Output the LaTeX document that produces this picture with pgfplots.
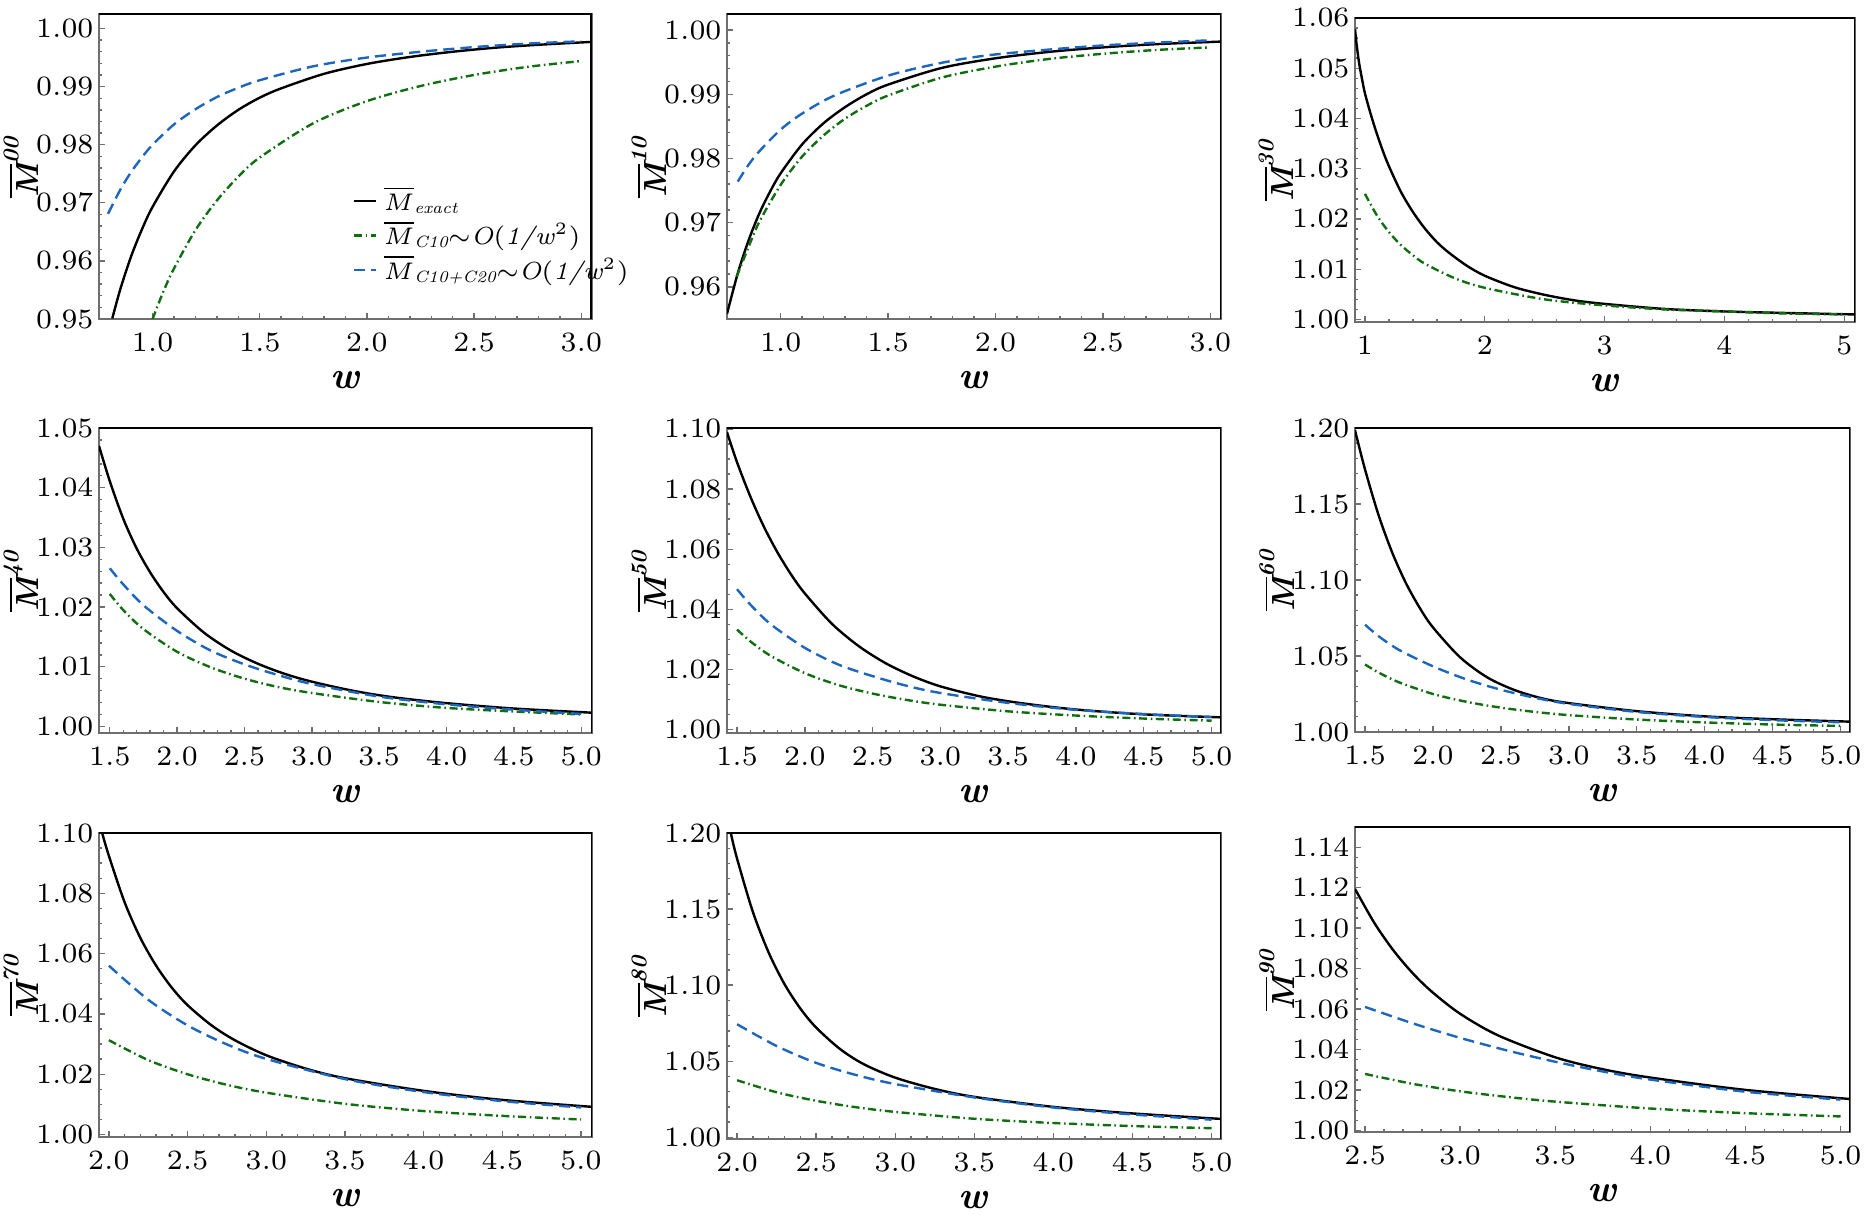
\documentclass[border=0pt]{standalone}
\usepackage{pgfplots}
\pgfplotsset{compat=1.18}
\definecolor{myblue}{RGB}{28,102,190}
\definecolor{mygreen}{RGB}{16,110,16}
\definecolor{axgray}{RGB}{110,110,110}
\newcommand{\ML}[1]{$\overline{\mbox{\bfseries\itshape M}}^{\mbox{\fontsize{5.6}{6}\selectfont\bfseries\itshape #1}}$}
\newcommand{\LS}[1]{\raisebox{-0.7pt}{\fontsize{4.1}{4}\selectfont\itshape #1}}
\pgfplotsset{
  panel/.style={
    scale only axis, anchor=south west,
    tick align=inside, tick pos=left,
    axis line style={draw=axgray, line width=0.45pt},
    tick style={draw=axgray, line width=0.35pt},
    major tick length=1.4pt, minor tick length=0.8pt,
    minor x tick num=4,
    tick label style={font=\fontsize{7.2}{8}\selectfont},
    yticklabel style={inner sep=1.2pt},
    xticklabel style={/pgf/number format/fixed, /pgf/number format/fixed zerofill, /pgf/number format/precision=1},
    yticklabel style={/pgf/number format/fixed, /pgf/number format/fixed zerofill, /pgf/number format/precision=2},
    every axis y label/.style={at={(axis description cs:-0.158,0.5)}, rotate=90, anchor=center, font=\fontsize{8}{9}\selectfont},
    every axis x label/.style={at={(axis description cs:0.5,-0.2)}, anchor=center, font=\fontsize{9.5}{10}\selectfont},
    xlabel={\textbf{\textit{w}}},
  },
  plotex/.style={black, line width=0.6pt, smooth},
  plotca/.style={mygreen, line width=0.6pt, smooth, dash pattern=on 2pt off 0.9pt on 0.4pt off 0.9pt},
  plotcb/.style={myblue, line width=0.6pt, smooth, dash pattern=on 2.8pt off 1.5pt},
}
\newcommand{\frameTR}{\draw[black, line width=0.75pt] (rel axis cs:0,1) -- (rel axis cs:1,1) -- (rel axis cs:1,0);}
\begin{document}
\begin{tikzpicture}
\useasboundingbox (0,0) rectangle (468.25pt,304.75pt);
% ---------- M00
\begin{axis}[panel, at={(24.75pt,225pt)}, width=123.25pt, height=76.25pt,
  xmin=0.75, xmax=3.05, ymin=0.95, ymax=1.0025,
  xtick={1,1.5,2,2.5,3}, ytick={0.95,0.96,0.97,0.98,0.99,1.00}, minor y tick num=4,
  ylabel={\ML{00}},
  legend style={draw=none, fill=none, at={(0.513,0.445)}, anchor=north west, font=\fontsize{6.2}{7}\selectfont, inner sep=0pt, row sep=0pt, nodes={inner sep=0.5pt}, /tikz/every odd column/.append style={column sep=1.2pt}},
  legend cell align=left,
  legend image code/.code={\draw[#1] (0pt,0pt) -- (5.5pt,0pt);}]
\addplot[plotex] coordinates {(0.812,0.9501) (0.85,0.9552) (0.9,0.9608) (0.95,0.9654) (1.0,0.9693) (1.1,0.9754) (1.2,0.9799) (1.3,0.9833) (1.4,0.9860) (1.5,0.9881) (1.6,0.9897) (1.8,0.9922) (2.0,0.9939) (2.2,0.9951) (2.4,0.9960) (2.6,0.9967) (2.8,0.9972) (3.05,0.9977)};
\addlegendentry{$\overline{M}$\LS{exact}}
\addplot[plotca] coordinates {(1.0,0.9500) (1.05,0.9547) (1.1,0.9587) (1.2,0.9653) (1.3,0.9704) (1.4,0.9745) (1.5,0.9778) (1.75,0.9837) (2.0,0.9875) (2.25,0.9901) (2.5,0.9920) (2.75,0.9934) (3.0,0.9944)};
\addlegendentry{$\overline{M}$\LS{C10}$\sim$\textit{O}(\textit{1/w}\textsuperscript{2})}
\addplot[plotcb] coordinates {(0.792,0.9681) (0.85,0.9723) (0.9,0.9753) (0.95,0.9778) (1.0,0.9800) (1.1,0.9835) (1.2,0.9861) (1.3,0.9882) (1.4,0.9898) (1.5,0.9911) (1.75,0.9935) (2.0,0.9950) (2.25,0.9960) (2.5,0.9968) (2.75,0.9974) (3.0,0.9978)};
\addlegendentry{$\overline{M}$\LS{C10+C20}$\sim$\textit{O}(\textit{1/w}\textsuperscript{2})}
\frameTR
\end{axis}
% ---------- M10
\begin{axis}[panel, at={(181.75pt,225pt)}, width=123.5pt, height=76.25pt,
  xmin=0.75, xmax=3.05, ymin=0.955, ymax=1.0025,
  xtick={1,1.5,2,2.5,3}, ytick={0.96,0.97,0.98,0.99,1.00}, minor y tick num=4,
  ylabel={\ML{10}}]
\addplot[plotex] coordinates {(0.75,0.9558) (0.8,0.9621) (0.85,0.9672) (0.9,0.9714) (0.95,0.9748) (1.0,0.9777) (1.1,0.9822) (1.2,0.9855) (1.3,0.9880) (1.4,0.9900) (1.5,0.9915) (1.75,0.9941) (2.0,0.9956) (2.25,0.9966) (2.5,0.9973) (2.75,0.9978) (3.05,0.9982)};
\addplot[plotca] coordinates {(0.795,0.9616) (0.85,0.9662) (0.9,0.9701) (1.0,0.9759) (1.1,0.9803) (1.2,0.9836) (1.3,0.9862) (1.4,0.9882) (1.5,0.9898) (1.75,0.9926) (2.0,0.9943) (2.25,0.9955) (2.5,0.9963) (2.75,0.9969) (3.0,0.9973)};
\addplot[plotcb] coordinates {(0.8,0.9764) (0.85,0.9790) (0.9,0.9811) (1.0,0.9845) (1.1,0.9870) (1.25,0.9898) (1.5,0.9929) (1.75,0.9949) (2.0,0.9962) (2.5,0.9976) (3.0,0.9984)};
\frameTR
\end{axis}
% ---------- M30
\begin{axis}[panel, at={(338.75pt,224.25pt)}, width=125pt, height=76pt,
  xmin=0.917, xmax=5.09, ymin=0.9995, ymax=1.06,
  xtick={1,2,3,4,5}, xticklabel style={/pgf/number format/precision=0},
  ytick={1.00,1.01,1.02,1.03,1.04,1.05,1.06}, minor y tick num=4,
  ylabel={\ML{30}}]
\addplot[plotex] coordinates {(0.917,1.0578) (0.93,1.0548) (0.95,1.0512) (0.975,1.0479) (1.0,1.0450) (1.05,1.0407) (1.1,1.0369) (1.15,1.0335) (1.2,1.0305) (1.3,1.0254) (1.4,1.0214) (1.5,1.0181) (1.6,1.0154) (1.7,1.0133) (1.85,1.0107) (2.0,1.0087) (2.25,1.0064) (2.5,1.0049) (2.75,1.0038) (3.0,1.0031) (3.5,1.0021) (4.0,1.0016) (4.5,1.0013) (5.09,1.0010)};
\addplot[plotca] coordinates {(1.0,1.0250) (1.1,1.0207) (1.2,1.0174) (1.3,1.0148) (1.4,1.0128) (1.5,1.0111) (1.75,1.0082) (2.0,1.0063) (2.5,1.0040) (3.0,1.0028) (3.5,1.0020) (4.0,1.0016) (4.5,1.0012) (5.0,1.0010)};
\frameTR
\end{axis}
% ---------- M40
\begin{axis}[panel, at={(24.75pt,121.5pt)}, width=123.25pt, height=76.25pt,
  xmin=1.42, xmax=5.08, ymin=0.9989, ymax=1.05,
  xtick={1.5,2,2.5,3,3.5,4,4.5,5}, ytick={1.00,1.01,1.02,1.03,1.04,1.05}, minor y tick num=4,
  ylabel={\ML{40}}]
\addplot[plotex] coordinates {(1.42,1.0470) (1.5,1.0411) (1.6,1.0348) (1.7,1.0298) (1.8,1.0258) (1.9,1.0225) (2.0,1.0198) (2.2,1.0157) (2.4,1.0127) (2.6,1.0105) (2.8,1.0088) (3.0,1.0075) (3.3,1.0060) (3.6,1.0049) (4.0,1.0039) (4.5,1.0030) (5.08,1.0023)};
\addplot[plotca] coordinates {(1.5,1.0222) (1.6,1.0195) (1.75,1.0163) (2.0,1.0125) (2.25,1.0099) (2.5,1.0080) (2.75,1.0066) (3.0,1.0056) (3.5,1.0041) (4.0,1.0031) (4.5,1.0025) (5.0,1.0020)};
\addplot[plotcb] coordinates {(1.5,1.0265) (1.6,1.0238) (1.75,1.0203) (2.0,1.0160) (2.25,1.0127) (2.5,1.0104) (2.75,1.0086) (3.0,1.0071) (3.5,1.0050) (4.0,1.0037) (4.5,1.0028) (5.0,1.0021)};
\frameTR
\end{axis}
% ---------- M50
\begin{axis}[panel, at={(181.75pt,121.5pt)}, width=123.5pt, height=76.25pt,
  xmin=1.426, xmax=5.07, ymin=0.9989, ymax=1.1003,
  xtick={1.5,2,2.5,3,3.5,4,4.5,5}, ytick={1.00,1.02,1.04,1.06,1.08,1.10}, minor y tick num=3,
  ylabel={\ML{50}}]
\addplot[plotex] coordinates {(1.426,1.0989) (1.5,1.0889) (1.6,1.0773) (1.7,1.0673) (1.8,1.0588) (1.9,1.0515) (2.0,1.0453) (2.2,1.0352) (2.4,1.0277) (2.6,1.0220) (2.8,1.0177) (3.0,1.0144) (3.3,1.0110) (3.6,1.0088) (4.0,1.0067) (4.5,1.0051) (5.07,1.0041)};
\addplot[plotca] coordinates {(1.5,1.0333) (1.6,1.0293) (1.75,1.0245) (2.0,1.0188) (2.25,1.0148) (2.5,1.0120) (2.75,1.0099) (3.0,1.0083) (3.5,1.0061) (4.0,1.0047) (4.5,1.0037) (5.0,1.0030)};
\addplot[plotcb] coordinates {(1.5,1.0467) (1.6,1.0415) (1.75,1.0350) (2.0,1.0272) (2.25,1.0216) (2.5,1.0178) (2.75,1.0146) (3.0,1.0122) (3.5,1.0089) (4.0,1.0066) (4.5,1.0052) (5.0,1.0042)};
\frameTR
\end{axis}
% ---------- M60
\begin{axis}[panel, at={(338.75pt,121.75pt)}, width=123.75pt, height=76pt,
  xmin=1.426, xmax=5.07, ymin=1.0, ymax=1.20,
  xtick={1.5,2,2.5,3,3.5,4,4.5,5}, ytick={1.00,1.05,1.10,1.15,1.20}, minor y tick num=4,
  ylabel={\ML{60}}]
\addplot[plotex] coordinates {(1.426,1.1985) (1.5,1.1726) (1.6,1.1425) (1.7,1.1180) (1.8,1.0981) (1.9,1.0820) (2.0,1.0688) (2.2,1.0491) (2.4,1.0359) (2.6,1.0276) (2.8,1.0222) (3.0,1.0190) (3.5,1.0137) (4.0,1.0103) (4.5,1.0084) (5.07,1.0068)};
\addplot[plotca] coordinates {(1.5,1.0444) (1.6,1.0391) (1.75,1.0327) (2.0,1.0250) (2.25,1.0198) (2.5,1.0160) (2.75,1.0132) (3.0,1.0111) (3.5,1.0082) (4.0,1.0063) (4.5,1.0049) (5.0,1.0040)};
\addplot[plotcb] coordinates {(1.5,1.0706) (1.6,1.0630) (1.75,1.0540) (2.0,1.0432) (2.25,1.0345) (2.5,1.0278) (2.75,1.0225) (3.0,1.0185) (3.5,1.0132) (4.0,1.0099) (4.5,1.0078) (5.0,1.0064)};
\frameTR
\end{axis}
% ---------- M70
\begin{axis}[panel, at={(24.75pt,20.5pt)}, width=123.25pt, height=76pt,
  xmin=1.937, xmax=5.07, ymin=0.9992, ymax=1.10,
  xtick={2,2.5,3,3.5,4,4.5,5}, ytick={1.00,1.02,1.04,1.06,1.08,1.10}, minor y tick num=3,
  ylabel={\ML{70}}]
\addplot[plotex] coordinates {(1.957,1.1000) (2.0,1.0924) (2.1,1.0770) (2.2,1.0652) (2.3,1.0560) (2.4,1.0487) (2.5,1.0429) (2.65,1.0363) (2.8,1.0313) (3.0,1.0263) (3.25,1.0219) (3.5,1.0187) (4.0,1.0145) (4.5,1.0115) (5.07,1.0092)};
\addplot[plotca] coordinates {(2.0,1.0313) (2.25,1.0247) (2.5,1.0200) (2.75,1.0165) (3.0,1.0139) (3.5,1.0102) (4.0,1.0078) (4.5,1.0062) (5.0,1.0050)};
\addplot[plotcb] coordinates {(2.0,1.0560) (2.25,1.0447) (2.5,1.0362) (2.75,1.0299) (3.0,1.0251) (3.5,1.0184) (4.0,1.0141) (4.5,1.0111) (5.0,1.0090)};
\frameTR
\end{axis}
% ---------- M80
\begin{axis}[panel, at={(181.75pt,20pt)}, width=123.5pt, height=76.5pt,
  xmin=1.936, xmax=5.06, ymin=0.9989, ymax=1.20,
  xtick={2,2.5,3,3.5,4,4.5,5}, ytick={1.00,1.05,1.10,1.15,1.20}, minor y tick num=4,
  ylabel={\ML{80}}]
\addplot[plotex] coordinates {(1.96,1.1999) (2.0,1.1830) (2.1,1.1480) (2.2,1.1213) (2.3,1.1006) (2.4,1.0846) (2.5,1.0721) (2.65,1.0581) (2.8,1.0481) (3.0,1.0392) (3.25,1.0318) (3.5,1.0266) (4.0,1.0200) (4.5,1.0157) (5.06,1.0121)};
\addplot[plotca] coordinates {(2.0,1.0375) (2.25,1.0296) (2.5,1.0240) (2.75,1.0198) (3.0,1.0167) (3.5,1.0122) (4.0,1.0094) (4.5,1.0074) (5.0,1.0060)};
\addplot[plotcb] coordinates {(2.0,1.0743) (2.25,1.0600) (2.5,1.0489) (2.75,1.0410) (3.0,1.0350) (3.5,1.0262) (4.0,1.0196) (4.5,1.0150) (5.0,1.0116)};
\frameTR
\end{axis}
% ---------- M90
\begin{axis}[panel, at={(338.75pt,21.75pt)}, width=123.75pt, height=76.25pt,
  xmin=2.447, xmax=5.05, ymin=0.9993, ymax=1.15,
  xtick={2.5,3,3.5,4,4.5,5}, ytick={1.00,1.02,1.04,1.06,1.08,1.10,1.12,1.14}, minor y tick num=3,
  ylabel={\ML{90}}]
\addplot[plotex] coordinates {(2.447,1.1194) (2.55,1.1024) (2.65,1.0889) (2.75,1.0778) (2.85,1.0687) (3.0,1.0577) (3.2,1.0470) (3.5,1.0362) (3.75,1.0303) (4.0,1.0262) (4.5,1.0201) (5.05,1.0156)};
\addplot[plotca] coordinates {(2.5,1.0280) (2.75,1.0231) (3.0,1.0194) (3.25,1.0166) (3.5,1.0143) (4.0,1.0109) (4.5,1.0086) (5.0,1.0070)};
\addplot[plotcb] coordinates {(2.5,1.0611) (2.75,1.0530) (3.0,1.0458) (3.25,1.0395) (3.5,1.0340) (3.75,1.0292) (4.0,1.0252) (4.5,1.0192) (5.0,1.0153)};
\frameTR
\end{axis}
\end{tikzpicture}
\end{document}
